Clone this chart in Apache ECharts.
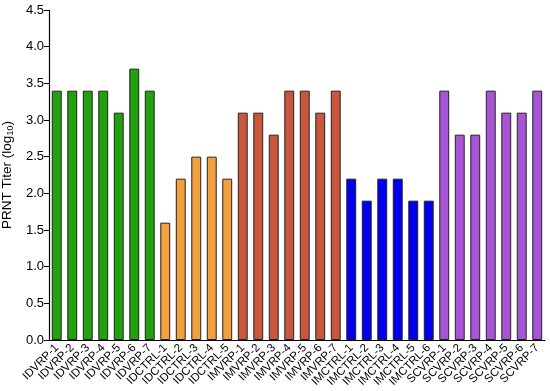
<!DOCTYPE html>
<html><head><meta charset="utf-8">
<script src="https://cdn.jsdelivr.net/npm/echarts@6/dist/echarts.min.js"></script>
<style>html,body{margin:0;padding:0;background:#fff}#c{width:550px;height:391px}</style>
</head><body><div id="c"></div>
<script>
const idvrpCats = ['IDVRP-1','IDVRP-2','IDVRP-3','IDVRP-4','IDVRP-5','IDVRP-6','IDVRP-7'];
const idvrpVals = [3.4,3.4,3.4,3.4,3.1,3.7,3.4];
const idctrlCats = ['IDCTRL-1','IDCTRL-2','IDCTRL-3','IDCTRL-4','IDCTRL-5'];
const idctrlVals = [1.6,2.2,2.5,2.5,2.2];
const imvrpCats = ['IMVRP-1','IMVRP-2','IMVRP-3','IMVRP-4','IMVRP-5','IMVRP-6','IMVRP-7'];
const imvrpVals = [3.1,3.1,2.8,3.4,3.4,3.1,3.4];
const imctrlCats = ['IMCTRL-1','IMCTRL-2','IMCTRL-3','IMCTRL-4','IMCTRL-5','IMCTRL-6'];
const imctrlVals = [2.2,1.9,2.2,2.2,1.9,1.9];
const scvrpCats = ['SCVRP-1','SCVRP-2','SCVRP-3','SCVRP-4','SCVRP-5','SCVRP-6','SCVRP-7'];
const scvrpVals = [3.4,2.8,2.8,3.4,3.1,3.1,3.4];
const yTicks = [0,0.5,1,1.5,2,2.5,3,3.5,4,4.5];

const groups = [
  {cats: idvrpCats, vals: idvrpVals, color: '#22A00E'},
  {cats: idctrlCats, vals: idctrlVals, color: '#F5A040'},
  {cats: imvrpCats, vals: imvrpVals, color: '#C9573E'},
  {cats: imctrlCats, vals: imctrlVals, color: '#0000F0'},
  {cats: scvrpCats, vals: scvrpVals, color: '#A855D5'}
];
const categories = [];
const data = [];
groups.forEach(g => {
  g.cats.forEach((c, i) => {
    categories.push(c);
    data.push({value: g.vals[i], itemStyle: {color: g.color}});
  });
});

const chart = echarts.init(document.getElementById('c'));
chart.setOption({
  animation: false,
  grid: {left: 49, right: 5, top: 10, bottom: 51, containLabel: false, outerBoundsMode: 'none'},
  xAxis: {
    type: 'category',
    data: categories,
    axisLine: {lineStyle: {color: '#000', width: 1.2}},
    axisTick: {alignWithLabel: true, length: 4, lineStyle: {color: '#000'}},
    axisLabel: {rotate: 45, interval: 0, fontSize: 11.5, fontFamily: 'Liberation Sans, Arial', color: '#000', margin: 6}
  },
  yAxis: {
    type: 'value',
    min: 0, max: 4.5, interval: 0.5,
    name: '{a|PRNT Titer (log}{s|10}{a|)}',
    nameLocation: 'middle',
    nameRotate: 90,
    nameGap: 32,
    nameTextStyle: {
      rich: {
        a: {fontSize: 13.5, fontFamily: 'Liberation Sans, Arial', color: '#000'},
        s: {fontSize: 9, fontFamily: 'Liberation Sans, Arial', color: '#000', verticalAlign: 'bottom', padding: [6,0,0,0]}
      }
    },
    splitLine: {show: false},
    axisLine: {show: true, lineStyle: {color: '#000', width: 1.2}},
    axisTick: {show: true, length: 5, lineStyle: {color: '#000'}},
    axisLabel: {fontSize: 13, fontFamily: 'Liberation Sans, Arial', color: '#000', margin: 5,
      formatter: v => v.toFixed(1)}
  },
  series: [{
    type: 'bar',
    data: data,
    barWidth: '64%',
    itemStyle: {borderColor: '#222', borderWidth: 1}
  }]
});
</script></body></html>
